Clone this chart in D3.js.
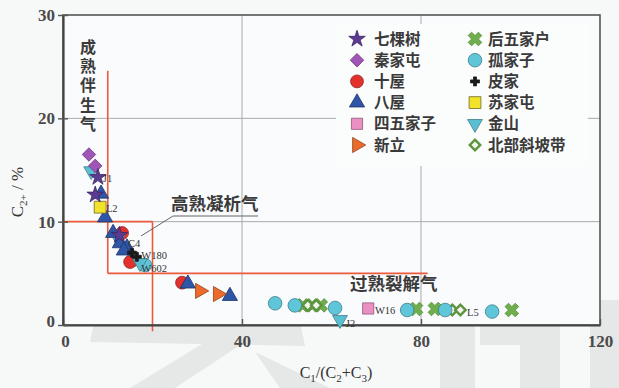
<!DOCTYPE html>
<html>
<head>
<meta charset="utf-8">
<script src="https://cdn.jsdelivr.net/npm/d3@7"></script>
<style>
  html, body { margin: 0; padding: 0; background: #f7f8f8; }
  svg { display: block; }
</style>
</head>
<body>
<svg id="chart" width="619" height="388"></svg>
<script>
// ---- data: C1/(C2+C3) vs C2+ (%) ----
const qikeshu   = [[7.8, 14.3], [7.2, 12.6], [12.6, 8.7]];                       // 七棵树
const qinjiatun = [[5.8, 16.5], [7.2, 15.4]];                                     // 秦家屯
const shiwu     = [[13.2, 8.9], [15.0, 6.1], [26.6, 4.1]];                        // 十屋
const bawu      = [[8.5, 12.7], [9.4, 10.4], [11.2, 8.9], [12.7, 7.9], [14.3, 7.5],
                   [13.6, 7.2], [27.9, 4.0], [37.3, 2.8]];                        // 八屋
const siwujiazi = [[68.2, 1.6]];                                                  // 四五家子
const xinli     = [[30.6, 3.3], [34.6, 3.0]];                                     // 新立
const houwujiahu= [[53.6, 1.9], [55.7, 1.9], [57.6, 1.9], [78.9, 1.55], [83.1, 1.55],
                   [100.3, 1.45]];                                                // 后五家户
const gujiazi   = [[47.4, 2.1], [51.8, 1.9], [60.8, 1.65], [76.9, 1.45], [85.4, 1.45],
                   [95.9, 1.3], [15.6, 6.3], [18.3, 5.8]];                        // 孤家子
const pijia     = [[15.4, 7.0], [16.5, 6.6]];                                     // 皮家
const sujiatun  = [[8.3, 11.4]];                                                  // 苏家屯
const jinshan   = [[6.3, 14.9], [12.3, 8.4], [17.2, 6.0], [61.9, 0.5]];           // 金山
const beibuxiepo= [[54.7, 1.9], [56.6, 1.9], [87.0, 1.45], [88.8, 1.45]];         // 北部斜坡带

// well labels
const wellLabels = [
  {t: "J1", x: 8.9, y: 14.2}, {t: "L2", x: 9.6, y: 11.3}, {t: "C4", x: 14.5, y: 7.9},
  {t: "W180", x: 17.5, y: 6.75}, {t: "W602", x: 17.5, y: 5.5}, {t: "J2", x: 63.2, y: 0.2},
  {t: "W16", x: 69.7, y: 1.4}, {t: "L5", x: 90.3, y: 1.25}
];

const xTicks = [0, 40, 80, 120];
const yTicks = [0, 10, 20, 30];

// zone boundaries
const zoneLines = [
  [[10, 24.6], [10, 5]],
  [[0, 10], [20, 10]],
  [[20, 10], [20, -0.6]],
  [[10, 5], [81.5, 5]]
];

// ---- series styling ----
const series = [
  {name: "七棵树",   data: qikeshu,    sym: d3.symbolStar,     size: 85,  rot: 0,   fill: "#5a3b8f", stroke: "#3b2466"},
  {name: "秦家屯",   data: qinjiatun,  sym: d3.symbolSquare,   size: 90,  rot: 45,  fill: "#a056b6", stroke: "#6d3a80"},
  {name: "十屋",     data: shiwu,      sym: d3.symbolCircle,   size: 130, rot: 0,   fill: "#e3312d", stroke: "#8a2a25"},
  {name: "八屋",     data: bawu,       sym: d3.symbolTriangle, size: 100, rot: 0,   fill: "#2e55a6", stroke: "#1d3566"},
  {name: "四五家子", data: siwujiazi,  sym: d3.symbolSquare,   size: 125, rot: 0,   fill: "#ec8fc4", stroke: "#8c5a77"},
  {name: "新立",     data: xinli,      sym: d3.symbolTriangle, size: 100, rot: 90,  fill: "#ec6a2c", stroke: "#8f4420"},
  {name: "后五家户", data: houwujiahu, sym: d3.symbolCross,    size: 115, rot: 45,  fill: "#6fae4c", stroke: "#5a8f3c"},
  {name: "孤家子",   data: gujiazi,    sym: d3.symbolCircle,   size: 145, rot: 0,   fill: "#5ec6d8", stroke: "#3f7e8a"},
  {name: "皮家",     data: pijia,      sym: d3.symbolCross,    size: 45,  rot: 0,   fill: "#1a1a1a", stroke: "#1a1a1a"},
  {name: "苏家屯",   data: sujiatun,   sym: d3.symbolSquare,   size: 140, rot: 0,   fill: "#f1e32a", stroke: "#6f6a2a"},
  {name: "金山",     data: jinshan,    sym: d3.symbolTriangle, size: 95,  rot: 180, fill: "#5bbfd2", stroke: "#3c7d8a"},
  {name: "北部斜坡带", data: beibuxiepo, sym: d3.symbolSquare, size: 55,  rot: 45,  fill: "#f4f6ee", stroke: "#5c9440", sw: 2.4}
];
// drawing order (later on top)
const drawOrder = ["后五家户", "北部斜坡带", "孤家子", "十屋", "金山", "八屋", "皮家", "新立",
                   "四五家子", "苏家屯", "秦家屯", "七棵树"];

// ---- layout ----
const svg = d3.select("#chart");
const x = d3.scaleLinear().domain([0, 120]).range([63, 600]);
const y = d3.scaleLinear().domain([0, 30]).range([325, 15]);

const serif = "'Liberation Serif', 'DejaVu Serif', serif";
const cjk = "'Noto Sans CJK SC', sans-serif";

// faint background mark
const wm = svg.append("g").attr("fill", "#e6e7e7");
wm.append("path").attr("d", "M95,318 L300,322 L305,346 L90,342 Z");
wm.append("path").attr("d", "M225,330 L260,332 L175,388 L130,388 Z");
wm.append("path").attr("d", "M255,352 L330,388 L280,388 Z");
wm.append("path").attr("d", "M440,300 L475,300 L475,388 L440,388 Z");
wm.append("path").attr("d", "M480,318 L560,318 L560,388 L520,388 L520,345 L480,345 Z");
wm.append("path").attr("d", "M590,300 L619,300 L619,388 L590,388 Z");

// plot background
svg.append("rect").attr("x", x(0)).attr("y", y(30))
  .attr("width", x(120) - x(0)).attr("height", y(0) - y(30))
  .attr("fill", "#fafbfc");

// grid
const grid = svg.append("g").attr("stroke", "#a9a9a9").attr("stroke-width", 1);
grid.selectAll("line.gx").data(xTicks.slice(1, -1)).join("line")
  .attr("x1", d => x(d)).attr("x2", d => x(d)).attr("y1", y(0)).attr("y2", y(30));
grid.selectAll("line.gy").data(yTicks.slice(1, -1)).join("line")
  .attr("y1", d => y(d)).attr("y2", d => y(d)).attr("x1", x(0)).attr("x2", x(120));

// legend panel (covers grid)
const legX = 336, legY = 24;
svg.append("rect").attr("x", legX).attr("y", legY).attr("width", 252).attr("height", 142)
  .attr("fill", "#fbfcfc");

// zone lines
const zl = d3.line().x(d => x(d[0])).y(d => y(d[1]));
svg.append("g").selectAll("path").data(zoneLines).join("path")
  .attr("d", zl).attr("fill", "none").attr("stroke", "#ec5a3c").attr("stroke-width", 1.6);

// frame
svg.append("rect").attr("x", x(0)).attr("y", y(30))
  .attr("width", x(120) - x(0)).attr("height", y(0) - y(30))
  .attr("fill", "none").attr("stroke", "#555").attr("stroke-width", 1.6);

// axes
const xAxis = svg.append("g").attr("transform", `translate(0,${y(0)})`)
  .call(d3.axisBottom(x).tickValues(xTicks).tickSizeInner(-6).tickSizeOuter(0).tickPadding(10));
const yAxis = svg.append("g").attr("transform", `translate(${x(0)},0)`)
  .call(d3.axisLeft(y).tickValues(yTicks).tickSizeInner(5).tickSizeOuter(0).tickPadding(3));
[xAxis, yAxis].forEach(a => {
  a.select(".domain").attr("stroke", "#444").attr("stroke-width", 2.2);
  a.selectAll(".tick line").attr("stroke", "#555").attr("stroke-width", 1.4);
  a.selectAll(".tick text").attr("font-family", serif).attr("font-size", 17)
    .attr("font-weight", "bold").attr("fill", "#4a4a4a");
});
yAxis.selectAll(".tick line").attr("x1", -5).attr("x2", 5);
xAxis.selectAll(".tick").filter(d => d === 0).select("text").attr("dx", 2);
yAxis.selectAll(".tick").filter(d => d === 0).select("text").attr("dy", "0.1em");

// axis titles
const yt = svg.append("text").attr("transform", `translate(23,${(y(0) + y(30)) / 2 + 22}) rotate(-90)`)
  .attr("text-anchor", "middle").attr("font-family", serif).attr("font-size", 17).attr("fill", "#333");
yt.append("tspan").text("C");
yt.append("tspan").text("2+").attr("font-size", 11).attr("dy", 4);
yt.append("tspan").text(" / %").attr("dy", -4);

const xt = svg.append("text").attr("x", 336).attr("y", 378)
  .attr("text-anchor", "middle").attr("font-family", serif).attr("font-size", 16).attr("fill", "#333");
xt.append("tspan").text("C");
xt.append("tspan").text("1").attr("font-size", 11).attr("dy", 4);
xt.append("tspan").text("/(C").attr("dy", -4);
xt.append("tspan").text("2").attr("font-size", 11).attr("dy", 4);
xt.append("tspan").text("+C").attr("dy", -4);
xt.append("tspan").text("3").attr("font-size", 11).attr("dy", 4);
xt.append("tspan").text(")").attr("dy", -4);

// zone labels
const zoneText = svg.append("g").attr("font-family", cjk).attr("font-weight", "bold")
  .attr("fill", "#3a3a3a");
zoneText.append("text").attr("x", 88).attr("y", 39)
  .style("writing-mode", "vertical-rl").style("text-orientation", "upright")
  .attr("font-size", 16).attr("letter-spacing", 3.2).text("成熟伴生气");
zoneText.append("text").attr("x", 171).attr("y", 210).attr("font-size", 17.5).text("高熟凝析气");
zoneText.append("text").attr("x", 350).attr("y", 290).attr("font-size", 17.5).text("过熟裂解气");
svg.append("path").attr("d", "M258,216 L173,216 L141,236")
  .attr("fill", "none").attr("stroke", "#666").attr("stroke-width", 1);

// points
const sym = s => d3.symbol().type(s.sym).size(s.size);
const byName = Object.fromEntries(series.map(s => [s.name, s]));
const pts = svg.append("g");
drawOrder.forEach(n => {
  const s = byName[n];
  pts.append("g").selectAll("path").data(s.data).join("path")
    .attr("d", sym(s))
    .attr("transform", d => `translate(${x(d[0])},${y(d[1])}) rotate(${s.rot})`)
    .attr("fill", s.fill).attr("stroke", s.stroke).attr("stroke-width", s.sw || 0.8);
});

// well labels
svg.append("g").selectAll("text").data(wellLabels).join("text")
  .attr("x", d => x(d.x)).attr("y", d => y(d.y)).attr("dy", "0.35em")
  .attr("font-family", serif).attr("font-size", 10.5).attr("fill", "#333").text(d => d.t);

// legend
const leg = svg.append("g");
series.forEach((s, i) => {
  const col = i < 6 ? 0 : 1, row = i % 6;
  const lx = col === 0 ? 357 : 475, ly = 39 + row * 21.2;
  leg.append("path").attr("d", sym(s))
    .attr("transform", `translate(${lx},${ly}) rotate(${s.rot})`)
    .attr("fill", s.fill).attr("stroke", s.stroke).attr("stroke-width", s.sw || 0.8);
  leg.append("text").attr("x", lx + (col === 0 ? 17 : 13)).attr("y", ly).attr("dy", "0.36em")
    .attr("font-family", cjk).attr("font-weight", "bold").attr("font-size", 15.5)
    .attr("fill", "#3a3a3a").text(s.name);
});
</script>
</body>
</html>
